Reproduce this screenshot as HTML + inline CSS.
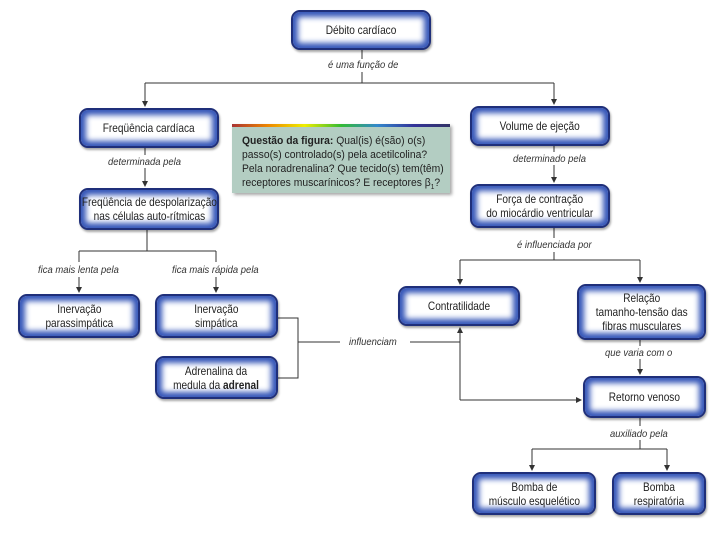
<!DOCTYPE html>
<html><head><meta charset="utf-8"><style>
body{margin:0;width:720px;height:540px;background:#fff;position:relative;overflow:hidden;font-family:"Liberation Sans",sans-serif;}
.b{position:absolute;box-sizing:border-box;border:2px solid #1f2f7a;border-radius:9px;background:#fff;box-shadow:inset 0 0 6px 5px #3556b8,1px 2px 2px rgba(0,0,0,.35);display:flex;align-items:center;justify-content:center;text-align:center;font-size:12px;line-height:14px;color:#222;}
.b span{display:inline-block;white-space:nowrap;transform:scaleX(.84);}
.l{position:absolute;font-size:10.5px;font-style:italic;color:#333;white-space:nowrap;transform:scaleX(.9);transform-origin:left;}
.q{position:absolute;left:232px;top:124px;width:218px;height:69px;background:#b3cdc2;box-shadow:2px 2px 3px rgba(0,0,0,.35);font-size:11px;line-height:14px;color:#222;box-sizing:border-box;padding:10px 0 0 10px;}
.q div{white-space:nowrap;transform:scaleX(.94);transform-origin:left;}
.q:before{content:"";position:absolute;left:0;top:0;right:0;height:3px;background:linear-gradient(90deg,#a33,#e80,#ee0,#3b3,#38c,#339,#336);}
svg{position:absolute;left:0;top:0}
</style></head><body>
<svg width="720" height="540">
<defs><marker id="a" markerWidth="6" markerHeight="6" refX="5" refY="3" orient="auto"><path d="M0,0L6,3L0,6z" fill="#333"/></marker></defs>
<g stroke="#333" stroke-width="1" fill="none">
<path d="M362 50V59M362 72V83"/><path d="M145 83H554"/>
<path d="M145 83V106" marker-end="url(#a)"/><path d="M554 83V104" marker-end="url(#a)"/>
<path d="M145 148V155M145 168V186" marker-end="url(#a)"/>
<path d="M554 146V152M554 165V182" marker-end="url(#a)"/>
<path d="M147 230V251M79 251H216"/>
<path d="M79 251V262M79 277V292" marker-end="url(#a)"/><path d="M216 251V262M216 277V292" marker-end="url(#a)"/>
<path d="M554 228V238M554 252V260M460 260H640"/>
<path d="M460 260V284" marker-end="url(#a)"/><path d="M640 260V282" marker-end="url(#a)"/>
<path d="M278 318H298V378H278M298 342H340M410 342H460"/>
<path d="M460 400V328" marker-end="url(#a)"/><path d="M460 400H581" marker-end="url(#a)"/>
<path d="M640 340V346M640 359V374" marker-end="url(#a)"/>
<path d="M640 418V426M640 440V449M532 449H667"/>
<path d="M532 449V470" marker-end="url(#a)"/><path d="M667 449V470" marker-end="url(#a)"/>
</g></svg>
<div class="b" style="left:291px;top:10px;width:140px;height:40px"><span>Débito cardíaco</span></div>
<div class="b" style="left:79px;top:108px;width:140px;height:40px"><span>Freqüência cardíaca</span></div>
<div class="b" style="left:470px;top:106px;width:140px;height:40px"><span>Volume de ejeção</span></div>
<div class="b" style="left:79px;top:188px;width:140px;height:42px"><span>Freqüência de despolarização<br>nas células auto-rítmicas</span></div>
<div class="b" style="left:470px;top:184px;width:140px;height:44px"><span>Força de contração<br>do miocárdio ventricular</span></div>
<div class="b" style="left:18px;top:294px;width:122px;height:44px"><span>Inervação<br>parassimpática</span></div>
<div class="b" style="left:155px;top:294px;width:123px;height:44px"><span>Inervação<br>simpática</span></div>
<div class="b" style="left:155px;top:356px;width:123px;height:43px"><span>Adrenalina da<br>medula da <b>adrenal</b></span></div>
<div class="b" style="left:398px;top:286px;width:122px;height:40px"><span>Contratilidade</span></div>
<div class="b" style="left:577px;top:284px;width:129px;height:56px"><span>Relação<br>tamanho-tensão das<br>fibras musculares</span></div>
<div class="b" style="left:583px;top:376px;width:123px;height:42px"><span>Retorno venoso</span></div>
<div class="b" style="left:472px;top:472px;width:124px;height:43px"><span>Bomba de<br>músculo esquelético</span></div>
<div class="b" style="left:612px;top:472px;width:94px;height:43px"><span>Bomba<br>respiratória</span></div>
<div class="q"><div><b>Questão da figura:</b> Qual(is) é(são) o(s)</div><div>passo(s) controlado(s) pela acetilcolina?</div><div>Pela noradrenalina? Que tecido(s) tem(têm)</div><div>receptores muscarínicos? E receptores β<sub style="font-size:7px">1</sub>?</div></div>
<div class="l" style="left:328px;top:59px">é uma função de</div>
<div class="l" style="left:108px;top:156px">determinada pela</div>
<div class="l" style="left:513px;top:153px">determinado pela</div>
<div class="l" style="left:517px;top:239px">é influenciada por</div>
<div class="l" style="left:38px;top:264px">fica mais lenta pela</div>
<div class="l" style="left:172px;top:264px">fica mais rápida pela</div>
<div class="l" style="left:349px;top:336px">influenciam</div>
<div class="l" style="left:605px;top:347px">que varia com o</div>
<div class="l" style="left:610px;top:428px">auxiliado pela</div>
</body></html>
